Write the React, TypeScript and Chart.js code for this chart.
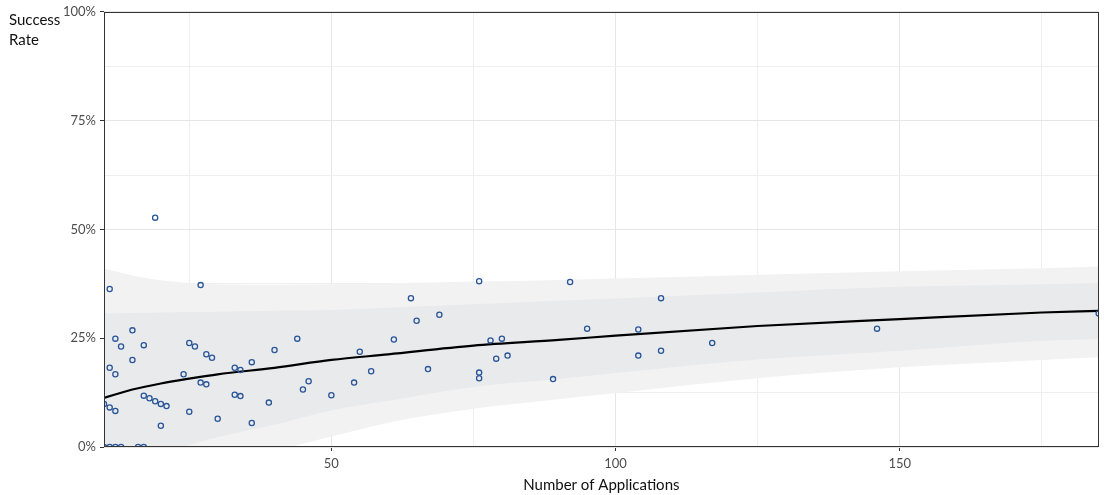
import React, { useEffect, useRef } from "react";
import { Chart, registerables } from "chart.js";

Chart.register(...registerables);

// Observed data: number of applications vs success rate (%)
const applications = [
  19, 11, 27, 15, 12, 13, 17, 25, 26, 28, 29, 15, 11, 12, 24, 27, 28, 33, 34, 36,
  40, 17, 18, 19, 20, 21, 10, 11, 12, 25, 33, 34, 39, 30, 36, 20, 10, 11, 12, 13,
  16, 17, 44, 45, 46, 50, 54, 55, 57, 61, 64, 65, 67, 69, 76, 76, 76, 78, 79, 80,
  81, 89, 92, 95, 104, 104, 108, 108, 117, 146, 185,
];
const successRate = [
  52.7, 36.3, 37.2, 26.8, 24.9, 23.1, 23.4, 23.9, 23.1, 21.3, 20.5, 20.0, 18.2, 16.7, 16.7, 14.8, 14.4, 18.2, 17.7, 19.5,
  22.3, 11.8, 11.2, 10.5, 9.9, 9.4, 9.9, 9.1, 8.3, 8.1, 12.0, 11.7, 10.2, 6.5, 5.5, 4.9, 0, 0, 0, 0,
  0, 0, 24.9, 13.2, 15.1, 11.9, 14.8, 21.9, 17.4, 24.7, 34.2, 29.0, 17.9, 30.4, 38.1, 17.1, 15.8, 24.5, 20.3, 24.9,
  21.0, 15.6, 37.9, 27.2, 27.0, 21.0, 34.2, 22.1, 23.9, 27.2, 30.7,
];

// Fitted curve and bands, read at these x positions
const bandX = [10, 15, 20, 25, 30, 40, 50, 60, 75, 90, 100, 125, 150, 175, 185];
const fitY = [11.3, 13.2, 14.6, 15.7, 16.7, 18.2, 20.0, 21.3, 23.3, 24.6, 25.6, 27.8, 29.4, 30.9, 31.3];
const innerUpper = [30.7, 30.8, 30.9, 31.0, 31.1, 31.3, 31.5, 32.0, 32.8, 33.6, 34.1, 35.5, 36.8, 37.4, 37.7];
const innerLower = [-8, -4.4, -1.7, 0.4, 2.3, 5.1, 8.4, 10.6, 13.8, 15.6, 17.0, 20.1, 22.1, 24.4, 24.8];
const outerUpper = [41.0, 39.4, 38.3, 37.7, 37.4, 37.3, 37.4, 37.6, 38.0, 38.4, 38.7, 39.6, 40.4, 41.1, 41.5];
const outerLower = [-18.4, -13, -9.1, -6.3, -4, -0.9, 2.4, 5.6, 8.8, 11.0, 12.4, 15.8, 18.3, 20.0, 20.6];

const xTicks = [25, 50, 75, 100, 125, 150, 175];
const yTicks = [0, 12.5, 25, 37.5, 50, 62.5, 75, 87.5, 100];

const FONT = "Lato, 'Open Sans', sans-serif";

const toPts = (xs: number[], ys: number[]) => xs.map((x, i) => ({ x, y: ys[i] }));

export default function App() {
  const ref = useRef<HTMLCanvasElement | null>(null);

  useEffect(() => {
    if (!ref.current) return;
    const framePlugin = {
      id: "frame",
      afterDatasetsDraw(chart: any) {
        const { ctx, chartArea } = chart;
        ctx.save();
        ctx.strokeStyle = "#333333";
        ctx.lineWidth = 1;
        ctx.strokeRect(
          Math.round(chartArea.left) + 0.5,
          Math.round(chartArea.top) + 0.5,
          Math.round(chartArea.right - chartArea.left) - 1,
          Math.round(chartArea.bottom - chartArea.top) - 1
        );
        ctx.restore();
      },
      afterDraw(chart: any) {
        const { ctx, chartArea } = chart;
        ctx.save();
        ctx.fillStyle = "#111111";
        ctx.font = `15px ${FONT}`;
        ctx.textAlign = "left";
        ctx.textBaseline = "alphabetic";
        ctx.fillText("Success", 9, 25);
        ctx.fillText("Rate", 9, 45);
        ctx.textAlign = "center";
        ctx.textBaseline = "middle";
        ctx.fillText("Number of Applications", (chartArea.left + chartArea.right) / 2, 485);
        ctx.restore();
      },
    };

    const chart = new Chart(ref.current, {
      type: "scatter",
      data: {
        datasets: [
          {
            type: "scatter",
            data: toPts(applications, successRate),
            pointRadius: 2.6,
            pointBorderWidth: 1.3,
            borderColor: "#2a5699",
            backgroundColor: "rgba(0,0,0,0)",
            pointBackgroundColor: "rgba(0,0,0,0)",
            pointBorderColor: "#2a5699",
            clip: 0,
            order: 0,
          } as any,
          {
            type: "line",
            data: toPts(bandX, fitY),
            borderColor: "#000000",
            borderWidth: 2.2,
            pointRadius: 0,
            cubicInterpolationMode: "monotone",
            fill: false,
            order: 1,
          } as any,
          {
            type: "line",
            data: toPts(bandX, innerUpper),
            borderColor: "rgba(0,0,0,0)",
            borderWidth: 0,
            pointRadius: 0,
            cubicInterpolationMode: "monotone",
            backgroundColor: "#e9eaec",
            fill: "+1",
            order: 2,
          } as any,
          {
            type: "line",
            data: toPts(bandX, innerLower),
            borderColor: "rgba(0,0,0,0)",
            borderWidth: 0,
            pointRadius: 0,
            cubicInterpolationMode: "monotone",
            fill: false,
            order: 2,
          } as any,
          {
            type: "line",
            data: toPts(bandX, outerUpper),
            borderColor: "rgba(0,0,0,0)",
            borderWidth: 0,
            pointRadius: 0,
            cubicInterpolationMode: "monotone",
            backgroundColor: "#f2f2f2",
            fill: "+1",
            order: 3,
          } as any,
          {
            type: "line",
            data: toPts(bandX, outerLower),
            borderColor: "rgba(0,0,0,0)",
            borderWidth: 0,
            pointRadius: 0,
            cubicInterpolationMode: "monotone",
            fill: false,
            order: 3,
          } as any,
        ],
      },
      options: {
        animation: false,
        responsive: false,
        layout: { padding: { top: 11, right: 5, left: 0, bottom: 0 } },
        plugins: {
          legend: { display: false },
          tooltip: { enabled: false },
        },
        scales: {
          x: {
            type: "linear",
            min: 10,
            max: 185,
            afterBuildTicks: (s: any) => {
              s.ticks = xTicks.map((v) => ({ value: v }));
            },
            afterFit: (s: any) => {
              s.height = 48;
            },
            border: { display: false },
            grid: {
              color: (c: any) => (c.tick && c.tick.value % 50 === 0 ? "#e6e6e6" : "#efefef"),
              lineWidth: 1,
              tickLength: 4,
              tickColor: (c: any) => (c.tick && c.tick.value % 50 === 0 ? "#333333" : "rgba(0,0,0,0)"),
            },
            ticks: {
              autoSkip: false,
              maxRotation: 0,
              padding: 5,
              color: "#4d4d4d",
              font: { family: FONT, size: 13 },
              callback: (v: any) => (Number(v) % 50 === 0 ? String(v) : ""),
            },
          },
          y: {
            type: "linear",
            min: 0,
            max: 100,
            afterBuildTicks: (s: any) => {
              s.ticks = yTicks.map((v) => ({ value: v }));
            },
            afterFit: (s: any) => {
              s.width = 104;
            },
            border: { display: false },
            grid: {
              color: (c: any) => (c.tick && c.tick.value % 25 === 0 ? "#e6e6e6" : "#efefef"),
              lineWidth: 1,
              tickLength: 4,
              tickColor: (c: any) => (c.tick && c.tick.value % 25 === 0 ? "#333333" : "rgba(0,0,0,0)"),
            },
            ticks: {
              autoSkip: false,
              padding: 4,
              color: "#4d4d4d",
              font: { family: FONT, size: 13 },
              callback: (v: any) => (Number(v) % 25 === 0 ? `${v}%` : ""),
            },
          },
        },
      },
      plugins: [framePlugin],
    });

    return () => chart.destroy();
  }, []);

  return (
    <div style={{ position: "absolute", left: 0, top: 0, width: 1104, height: 495, background: "#ffffff" }}>
      <canvas ref={ref} width={1104} height={495} style={{ display: "block" }} />
    </div>
  );
}
